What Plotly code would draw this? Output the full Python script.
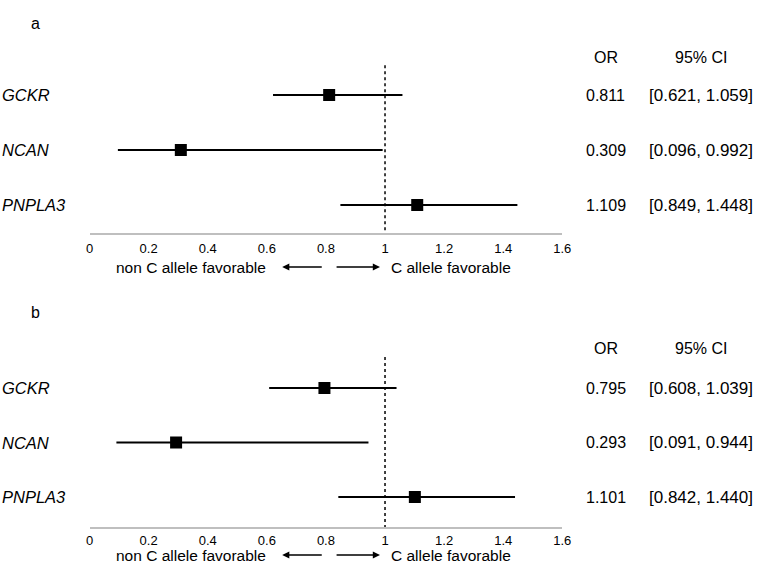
import plotly.graph_objects as go

genes = ["GCKR", "NCAN", "PNPLA3"]
rows = [0, 1, 2]

or_a = [0.811, 0.309, 1.109]
lo_a = [0.621, 0.096, 0.849]
hi_a = [1.059, 0.992, 1.448]

or_b = [0.795, 0.293, 1.101]
lo_b = [0.608, 0.091, 0.842]
hi_b = [1.039, 0.944, 1.440]

tick_vals = [0, 0.2, 0.4, 0.6, 0.8, 1.0, 1.2, 1.4, 1.6]
tick_text = ["0", "0.2", "0.4", "0.6", "0.8", "1", "1.2", "1.4", "1.6"]

FONT = "Liberation Sans, Arial, sans-serif"
W, H = 762, 562
OR_X = 612
CI_X = 709

fig = go.Figure()

panels = [
    dict(xa="x", ya="y", ors=or_a, los=lo_a, his=hi_a, label="a",
         label_py=23, head_v=-0.673, dot_top=-0.54, arrow_py=267),
    dict(xa="x2", ya="y2", ors=or_b, los=lo_b, his=hi_b, label="b",
         label_py=312, head_v=-0.734, dot_top=-0.57, arrow_py=555),
]

annotations = []
shapes = []
for p in panels:
    fig.add_trace(go.Scatter(
        x=p["ors"], y=rows, xaxis=p["xa"], yaxis=p["ya"], mode="markers",
        marker=dict(symbol="square", size=12, color="black"),
        error_x=dict(type="data", symmetric=False,
                     array=[h - o for h, o in zip(p["his"], p["ors"])],
                     arrayminus=[o - l for o, l in zip(p["ors"], p["los"])],
                     width=0, thickness=2, color="black"),
        showlegend=False, hoverinfo="skip"))
    # reference dotted line at OR = 1
    shapes.append(dict(type="line", xref=p["xa"], yref=p["ya"], x0=1, x1=1,
                       y0=p["dot_top"], y1=2.6, layer="below",
                       line=dict(color="black", width=1.5, dash="dot")))
    # panel label
    annotations.append(dict(text=p["label"], xref="paper", yref="paper",
                            x=32 / W, y=1 - p["label_py"] / H, showarrow=False,
                            xanchor="center", yanchor="middle",
                            font=dict(size=16, family=FONT, color="black")))
    # headers
    annotations.append(dict(text="OR", xref="paper", yref=p["ya"], x=OR_X / W,
                            y=p["head_v"], showarrow=False, xanchor="center",
                            yanchor="middle",
                            font=dict(size=16, family=FONT, color="black")))
    annotations.append(dict(text="95% CI", xref="paper", yref=p["ya"], x=CI_X / W,
                            y=p["head_v"], showarrow=False, xanchor="center",
                            yanchor="middle",
                            font=dict(size=16, family=FONT, color="black")))
    for r, g, o, l, h in zip(rows, genes, p["ors"], p["los"], p["his"]):
        annotations.append(dict(text=f"<i>{g}</i>", xref="paper", yref=p["ya"],
                                x=-4 / W, y=r, xanchor="left", yanchor="middle",
                                showarrow=False,
                                font=dict(size=16.5, family=FONT, color="black")))
        annotations.append(dict(text=f"{o:.3f}", xref="paper", yref=p["ya"],
                                x=OR_X / W, y=r, xanchor="center", yanchor="middle",
                                showarrow=False,
                                font=dict(size=16, family=FONT, color="black")))
        annotations.append(dict(text=f"[{l:.3f}, {h:.3f}]", xref="paper", yref=p["ya"],
                                x=CI_X / W, y=r, xanchor="center", yanchor="middle",
                                showarrow=False,
                                font=dict(size=17, family=FONT, color="black")))
    ay = 1 - p["arrow_py"] / H
    annotations.append(dict(text="non C allele favorable", xref=p["xa"], yref="paper",
                            x=0.605, y=ay, xanchor="right", yanchor="middle",
                            showarrow=False,
                            font=dict(size=15.5, family=FONT, color="black")))
    annotations.append(dict(text="C allele favorable", xref=p["xa"], yref="paper",
                            x=1.013, y=ay, xanchor="left", yanchor="middle",
                            showarrow=False,
                            font=dict(size=15.5, family=FONT, color="black")))
    annotations.append(dict(text="", xref=p["xa"], yref="paper", x=0.652, y=ay,
                            axref=p["xa"], ax=0.791, ayref="pixel", ay=0,
                            showarrow=True, arrowhead=2, arrowsize=1.1, arrowwidth=1.3,
                            arrowcolor="black"))
    annotations.append(dict(text="", xref=p["xa"], yref="paper", x=0.983, y=ay,
                            axref=p["xa"], ax=0.831, ayref="pixel", ay=0,
                            showarrow=True, arrowhead=2, arrowsize=1.1, arrowwidth=1.3,
                            arrowcolor="black"))

xdom = [87 / W, 568 / W]
xaxis_common = dict(range=[0, 1.6], domain=xdom, showgrid=False, zeroline=False,
                    showline=True, linecolor="#bfbfbf", linewidth=1.5,
                    tickvals=tick_vals, ticktext=tick_text, ticks="outside",
                    tickcolor="rgba(0,0,0,0)",
                    tickfont=dict(size=13, family=FONT, color="black"), fixedrange=True)
yaxis_common = dict(showgrid=False, zeroline=False, showline=False,
                    showticklabels=False, ticks="", fixedrange=True)

fig.update_layout(
    width=W, height=H, autosize=False,
    margin=dict(l=0, r=0, t=0, b=0),
    paper_bgcolor="white", plot_bgcolor="white",
    xaxis=dict(anchor="y", ticklen=3, **xaxis_common),
    xaxis2=dict(anchor="y2", ticklen=1, **xaxis_common),
    yaxis=dict(anchor="x", domain=[1 - 233 / H, 1 - 40 / H],
               range=[(233 - 95) / 55, (40 - 95) / 55], **yaxis_common),
    yaxis2=dict(anchor="x2", domain=[1 - 527 / H, 1 - 330 / H],
                range=[(527 - 388) / 54.5, (330 - 388) / 54.5], **yaxis_common),
    annotations=annotations, shapes=shapes,
)

fig.write_html("out.html", config={"displayModeBar": False},
               post_script="document.body.style.margin='0';document.body.style.overflow='hidden';")
